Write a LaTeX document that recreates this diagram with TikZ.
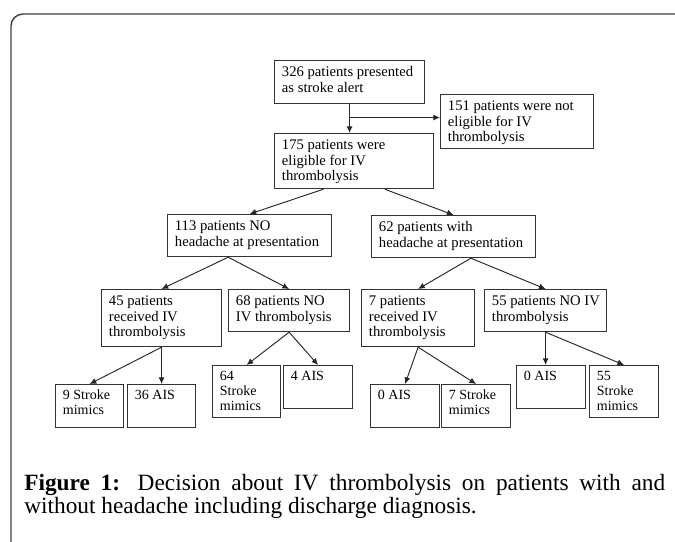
\documentclass[tikz,border=0pt]{standalone}
\usepackage{fontspec}
\setmainfont{Liberation Serif}
\usetikzlibrary{arrows.meta}
\tikzset{
	flowbox/.style={draw=black!80, line width=0.9pt, anchor=north west, inner xsep=5.5pt, inner ysep=3.5pt, font=\fontsize{11}{11.8}\selectfont},
	leafbox/.style={flowbox, font=\fontsize{10.5}{11.25}\selectfont},
	flowarrow/.style={draw=black!85, line width=0.7pt, -{Latex[length=5pt,width=4.5pt]}}
}
% box contents: width and height in pixels of the reference, text at the top left
\newcommand{\flowtext}[3]{\parbox[c][\dimexpr0.75pt*#2-7pt\relax][t]{\dimexpr0.75pt*#1-11pt\relax}{\begin{tabular}[t]{@{}l@{}}#3\end{tabular}}}

\begin{document}
\begin{tikzpicture}[x=0.75pt, y=-0.75pt]
	\useasboundingbox (0,0) rectangle (675,542);
	\draw[black!75, line width=1.1pt, rounded corners=9pt] (11,542) -- (11,14) -- (675,14);

	\node[flowbox] at (274,60) (box-326) {\flowtext{150}{43}{326 patients presented\\as stroke alert}};
	\node[flowbox] at (440,94) (box-151) {\flowtext{153}{54}{151 patients were not\\eligible for IV\\thrombolysis}};
	\node[flowbox] at (274,133) (box-175) {\flowtext{159}{55}{175 patients were\\eligible for IV\\thrombolysis}};
	\node[flowbox] at (167,214) (box-113) {\flowtext{164}{42}{113 patients NO\\headache at presentation}};
	\node[flowbox] at (371,215) (box-62) {\flowtext{164}{42}{62 patients with\\headache at presentation}};
	\node[flowbox] at (101,289) (box-45) {\flowtext{120}{57}{45 patients\\received IV\\thrombolysis}};
	\node[flowbox] at (228,289) (box-68) {\flowtext{121}{42}{68 patients NO\\IV thrombolysis}};
	\node[flowbox] at (361,289) (box-7) {\flowtext{113}{57}{7 patients\\received IV\\thrombolysis}};
	\node[flowbox] at (484,289) (box-55) {\flowtext{122}{42}{55 patients NO IV\\thrombolysis}};

	\node[leafbox] at (55,384) (leaf-9) {\flowtext{68}{43}{9 Stroke\\mimics}};
	\node[leafbox] at (127,384) (leaf-36) {\flowtext{68}{43}{36 AIS}};
	\node[leafbox] at (212,365) (leaf-64) {\flowtext{68}{52}{64\\Stroke\\mimics}};
	\node[leafbox] at (283,365) (leaf-4) {\flowtext{69}{43}{4 AIS}};
	\node[leafbox] at (370,384) (leaf-0a) {\flowtext{69}{43}{0 AIS}};
	\node[leafbox] at (441,384) (leaf-7) {\flowtext{69}{43}{7 Stroke\\mimics}};
	\node[leafbox] at (516,365) (leaf-0b) {\flowtext{69}{43}{0 AIS}};
	\node[leafbox] at (589,365) (leaf-55) {\flowtext{69}{52}{55\\Stroke\\mimics}};

	\draw[flowarrow] (box-326.south) -- (box-326.south |- box-175.north);
	\coordinate (split) at ([yshift=-10pt]box-326.south);
	\draw[flowarrow] (split) -- (split -| box-151.west);

	\draw[flowarrow] ([xshift=-23pt]box-175.south) -- (box-113.north);
	\draw[flowarrow] ([xshift=23pt]box-175.south) -- (box-62.north);
	\draw[flowarrow] ([xshift=-16pt]box-113.south) -- (box-45.north);
	\draw[flowarrow] ([xshift=-16pt]box-113.south) -- (box-68.north);
	\draw[flowarrow] ([xshift=13pt]box-62.south) -- (box-7.north);
	\draw[flowarrow] ([xshift=13pt]box-62.south) -- (box-55.north);

	\draw[flowarrow] (box-45.south) -- (leaf-9.north);
	\draw[flowarrow] (box-45.south) -- (box-45.south |- leaf-36.north);
	\draw[flowarrow] (box-68.south) -- (leaf-64.north);
	\draw[flowarrow] (box-68.south) -- (leaf-4.north);
	\draw[flowarrow] (box-7.south) -- (leaf-0a.north);
	\draw[flowarrow] (box-7.south) -- (leaf-7.north);
	\draw[flowarrow] (box-55.south) -- (box-55.south |- leaf-0b.north);
	\draw[flowarrow] (box-55.south) -- (leaf-55.north);

	\node[anchor=north west, inner sep=0pt, text width=480.75pt, align=justify, font=\fontsize{17.5}{17.5}\selectfont] at (24,474) (caption) {\textbf{Figure 1:} Decision about IV thrombolysis on patients with and\linebreak without headache including discharge diagnosis.};
\end{tikzpicture}
\end{document}
